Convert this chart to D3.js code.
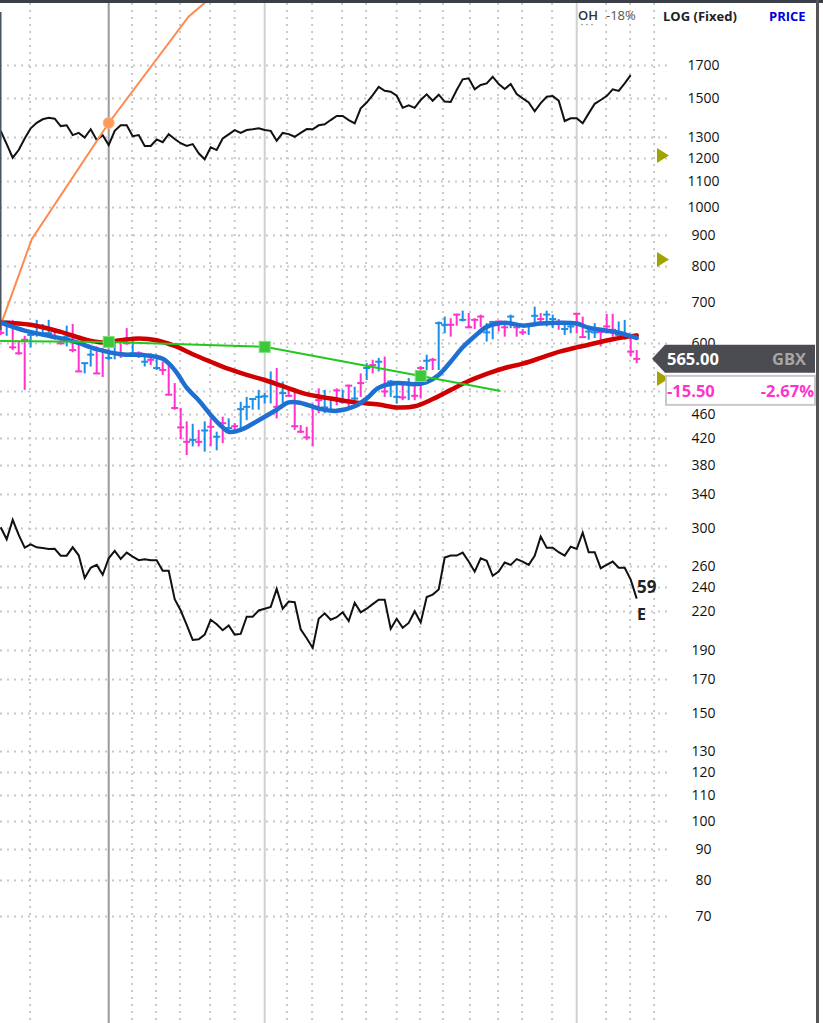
<!DOCTYPE html>
<html>
<head>
<meta charset="utf-8">
<script src="https://cdn.jsdelivr.net/npm/d3@7"></script>
<style>
	body { margin: 0; background: #fff; }
	text { font-family: "Open Sans", sans-serif; }
</style>
</head>
<body>
<svg id="chart" width="823" height="1023"></svg>
<script>
(function() {

	// daily bars: high / low / close, u = up (blue), d = down (pink)
	var highs = [647, 652, 654, 603, 616, 622, 654, 644, 654, 630, 614, 640, 644, 599, 556, 584, 592, 588, 581, 599,
		599, 634, 611, 581, 577, 577, 574, 559, 556, 516, 470, 447, 443, 433, 447, 452, 430, 455, 452, 444,
		481, 490, 487, 503, 497, 539, 546, 519, 506, 500, 441, 438, 478, 506, 503, 490, 506, 503, 513, 509,
		535, 556, 563, 567, 570, 522, 516, 513, 526, 516, 550, 574, 567, 650, 662, 658, 669, 677, 671, 658,
		667, 646, 650, 652, 650, 667, 646, 632, 646, 687, 671, 677, 667, 656, 646, 646, 671, 662, 634, 646,
		630, 669, 669, 650, 654, 611, 584];
	var lows = [618, 616, 584, 574, 503, 590, 614, 614, 618, 607, 596, 592, 579, 539, 535, 549, 534, 528, 563, 564,
		567, 596, 574, 567, 549, 552, 542, 532, 494, 467, 418, 394, 407, 407, 399, 407, 401, 412, 428, 430,
		436, 449, 467, 467, 478, 478, 452, 478, 490, 433, 428, 417, 407, 461, 461, 464, 475, 478, 472, 478,
		490, 522, 535, 539, 490, 490, 478, 484, 484, 484, 487, 542, 542, 542, 622, 614, 640, 650, 634, 632,
		636, 603, 608, 626, 614, 634, 614, 618, 618, 642, 646, 638, 634, 630, 618, 622, 622, 611, 607, 611,
		592, 622, 614, 611, 607, 570, 556];
	var closes = [623, 650, 590, 577, 607, 618, 622, 622, 622, 611, 599, 614, 584, 539, 556, 574, 535, 584, 567, 577,
		577, 599, 577, 577, 559, 563, 546, 542, 494, 470, 437, 414, 417, 414, 432, 438, 422, 444, 436, 439,
		468, 472, 486, 490, 491, 519, 472, 497, 492, 439, 430, 421, 472, 484, 471, 486, 502, 481, 511, 487,
		516, 546, 552, 559, 500, 519, 490, 489, 516, 492, 546, 561, 563, 646, 642, 642, 667, 654, 636, 654,
		662, 624, 649, 650, 636, 662, 636, 624, 640, 664, 656, 667, 656, 646, 632, 638, 669, 613, 626, 624,
		625, 638, 630, 618, 614, 580.5, 565];
	var barDir = "duddduuuuddudduudduuddudududddddududududuuuuuududddddduudu" +
		"dudububuududduduudduddduuddudduuduuduudduuddduuddduudddd";

	// relative strength line (top) and second comparison line (bottom)
	var topLine = [1328, 1264, 1201, 1236, 1291, 1341, 1369, 1387, 1395, 1390, 1352, 1356, 1307, 1318, 1295, 1336, 1283, 1307, 1259, 1328,
		1356, 1356, 1302, 1307, 1255, 1255, 1286, 1273, 1312, 1288, 1268, 1255, 1264, 1221, 1194, 1249, 1236, 1291, 1311, 1332,
		1318, 1332, 1336, 1341, 1332, 1328, 1280, 1318, 1312, 1299, 1318, 1337, 1336, 1356, 1361, 1383, 1404, 1404, 1383, 1366,
		1445, 1477, 1518, 1566, 1543, 1538, 1515, 1448, 1462, 1448, 1491, 1523, 1487, 1521, 1482, 1480, 1548, 1611, 1617, 1552,
		1577, 1587, 1627, 1583, 1554, 1583, 1525, 1500, 1477, 1429, 1474, 1509, 1513, 1487, 1378, 1392, 1392, 1366, 1418, 1470,
		1491, 1513, 1552, 1543, 1587, 1637];
	var bottomLine = [300.5, 287.3, 309, 292, 278.4, 282, 278.8, 278, 277, 277.3, 270.2, 270.2, 278.8, 270.6, 248.5, 258.2, 261, 251.5, 267.6, 275,
		267, 273.3, 269.3, 265.7, 266.7, 265.7, 265.7, 255.4, 255.4, 229.6, 220, 208.5, 197, 197.5, 201, 212.5, 209, 204.3, 208, 201,
		201.5, 215, 215, 220, 221.5, 223, 238.6, 221.5, 227.5, 227, 205, 198.3, 191.2, 213.3, 217.7, 212.5, 214.5, 218.5, 211.5, 226.5,
		218.5, 221.5, 225.3, 229, 229, 205.5, 213.3, 206.2, 210, 219.4, 210.4, 231.4, 233.5, 238, 268.3, 270.3, 270.3, 273.3, 264.3, 254.5,
		267.6, 265, 250.6, 254.5, 263.3, 261, 266.7, 264.3, 261, 270, 290.2, 278.4, 278.4, 273.7, 270.2, 279.5, 277, 294.6, 273.7, 273.7,
		257.8, 261, 264.3, 258.3, 258.3, 247, 230];

	// moving averages, read at [bar index, value]
	var blueMA = [[0, 647], [4, 628], [8, 616], [12, 604], [16, 586], [20, 575], [24, 573], [27, 565], [29, 542], [31, 507],
		[33, 484], [35, 458], [37, 437], [38, 430], [40, 433], [43, 449], [46, 467], [48, 480], [50, 479], [53, 469],
		[56, 465], [59, 473], [61, 487], [63, 507], [66, 516], [69, 514], [71, 518], [73, 532], [75, 559], [77, 590],
		[79, 615], [81, 637], [84, 647], [87, 640], [90, 645], [93, 647], [96, 645], [98, 635], [101, 628], [103, 623], [106, 611]];
	var redMA = [[0, 647], [5, 642], [10, 625], [14, 608], [17, 601], [20, 606], [23, 610], [26, 606], [29, 593], [32, 575],
		[35, 559], [38, 544], [41, 532], [44, 522], [47, 510], [51, 495], [55, 487], [59, 480], [63, 476], [66, 471],
		[69, 473], [72, 486], [75, 503], [78, 520], [81, 534], [84, 546], [87, 555], [90, 567], [93, 580], [96, 590],
		[99, 599], [102, 608], [104, 613], [106, 617]];

	// drawn trend lines [bar index, value]
	var greenTrend = [[-0.1, 604], [18, 602], [44, 591], [70, 530], [83.3, 501]];
	var greenAnchors = [18, 44, 70];
	var orangeLine = [[0.2, 649], [5.2, 886], [18, 1368], [31.3, 2037], [35, 2188]];
	var orangeAnchor = 18;

	// axis (500 sits under the change box, so only its grid line shows)
	var tickValues = [1700, 1500, 1300, 1200, 1100, 1000, 900, 800, 700, 600, 500, 460, 420, 380, 340, 300,
		260, 240, 220, 190, 170, 150, 130, 120, 110, 100, 90, 80, 70];
	var hiddenLabels = [500];
	var weekLines = [4.9, 21.9, 25.9, 29.9, 34.9, 39, 47.7, 51.9, 56.9, 60.9, 66, 69.9, 73.7, 78.2, 82.9, 86.9, 91.9, 100.9, 104.9, 108.9];
	var monthLines = [18, 44, 96];
	var alertLevels = [1211, 820, 525];

	var lastPrice = "565.00", currency = "GBX", change = "-15.50", changePct = "-2.67%";
	var rsValue = "59", rsTag = "E";


	var svg = d3.select("#chart");

	var x = d3.scaleLinear()
		.domain([0, 106])
		.range([0.7, 636.7]);

	var y = d3.scaleLog()
		.domain([1700, 70])
		.range([65, 916]);

	var plotRight = 653;

	svg.append("clipPath")
		.attr("id", "plot")
		.append("rect")
		.attr("x", 0).attr("y", 3)
		.attr("width", plotRight).attr("height", 1020);

	// horizontal dotted grid
	svg.append("g")
		.selectAll("line")
		.data(tickValues)
		.enter().append("line")
		.attr("x1", 0).attr("x2", 667)
		.attr("y1", function(d) { return Math.round(y(d)) + 0.5; })
		.attr("y2", function(d) { return Math.round(y(d)) + 0.5; })
		.attr("stroke", "#c8c8c8")
		.attr("stroke-width", 2)
		.attr("stroke-dasharray", "2,5");

	// vertical dotted grid (weeks) and the right edge of the plot
	svg.append("g")
		.selectAll("line")
		.data(weekLines)
		.enter().append("line")
		.attr("x1", function(d) { return x(d); })
		.attr("x2", function(d) { return x(d); })
		.attr("y1", 3).attr("y2", 1023)
		.attr("stroke", "#c8c8c8")
		.attr("stroke-width", 2)
		.attr("stroke-dasharray", "2,5");

	// month lines
	svg.append("g")
		.selectAll("line")
		.data(monthLines)
		.enter().append("line")
		.attr("x1", function(d) { return x(d); })
		.attr("x2", function(d) { return x(d); })
		.attr("y1", 3).attr("y2", 1023)
		.attr("stroke", function(d, i) { return i === 0 ? "#999" : "#d0d0d0"; })
		.attr("stroke-width", 2);

	var plot = svg.append("g").attr("clip-path", "url(#plot)");

	var line = d3.line()
		.x(function(d, i) { return x(i); })
		.y(function(d) { return y(d); });

	plot.append("path")
		.datum(topLine)
		.attr("d", line)
		.attr("fill", "none")
		.attr("stroke", "#111")
		.attr("stroke-width", 2);

	plot.append("path")
		.datum(bottomLine)
		.attr("d", line)
		.attr("fill", "none")
		.attr("stroke", "#111")
		.attr("stroke-width", 2);

	// orange line
	var pairLine = d3.line()
		.x(function(d) { return x(d[0]); })
		.y(function(d) { return y(d[1]); });

	plot.append("path")
		.datum(orangeLine)
		.attr("d", pairLine)
		.attr("fill", "none")
		.attr("stroke", "#ff8a4c")
		.attr("stroke-width", 2);

	// price bars
	var bars = plot.append("g");
	closes.forEach(function(c, i) {
		var col = barDir[i] === "u" ? "#1a8fe8" : "#ff33cc";
		bars.append("line")
			.attr("x1", x(i)).attr("x2", x(i))
			.attr("y1", y(highs[i])).attr("y2", y(lows[i]))
			.attr("stroke", col).attr("stroke-width", 2);
		bars.append("line")
			.attr("x1", x(i) - 3.5).attr("x2", x(i) + 3.5)
			.attr("y1", y(c)).attr("y2", y(c))
			.attr("stroke", col).attr("stroke-width", 2);
	});

	// moving averages
	var maLine = d3.line()
		.x(function(d) { return x(d[0]); })
		.y(function(d) { return y(d[1]); })
		.curve(d3.curveCatmullRom);

	plot.append("path")
		.datum(redMA)
		.attr("d", maLine)
		.attr("fill", "none")
		.attr("stroke", "#d00000")
		.attr("stroke-width", 4.5)
		.attr("stroke-linecap", "round");

	plot.append("path")
		.datum(blueMA)
		.attr("d", maLine)
		.attr("fill", "none")
		.attr("stroke", "#1f6fd2")
		.attr("stroke-width", 4.5)
		.attr("stroke-linecap", "round");

	// green trend line
	plot.append("path")
		.datum(greenTrend)
		.attr("d", pairLine)
		.attr("fill", "none")
		.attr("stroke", "#22c81e")
		.attr("stroke-width", 2);

	plot.selectAll(".anchor")
		.data(greenAnchors)
		.enter().append("rect")
		.attr("x", function(d) { return x(d) - 5.5; })
		.attr("y", function(d) {
			var p = greenTrend.filter(function(g) { return g[0] === d; })[0];
			return y(p[1]) - 5.5;
		})
		.attr("width", 11).attr("height", 11)
		.attr("fill", "#3cc83a")
		.attr("stroke", "#7ee07a")
		.attr("stroke-width", 1);

	var op = orangeLine.filter(function(o) { return o[0] === orangeAnchor; })[0];
	plot.append("circle")
		.attr("cx", x(op[0])).attr("cy", y(op[1]))
		.attr("r", 5.5)
		.attr("fill", "#ff9a5a")
		.attr("stroke", "#ffb27f")
		.attr("stroke-width", 1);

	// right axis labels
	svg.append("g")
		.selectAll("text")
		.data(tickValues.filter(function(d) { return hiddenLabels.indexOf(d) < 0; }))
		.enter().append("text")
		.attr("x", 703.5)
		.attr("y", function(d) { return y(d); })
		.attr("dy", "0.36em")
		.attr("text-anchor", "middle")
		.attr("font-size", "14px")
		.attr("fill", "#111")
		.text(function(d) { return d; });

	// alert markers
	svg.append("g")
		.selectAll("path")
		.data(alertLevels)
		.enter().append("path")
		.attr("d", function(d) {
			var yy = y(d);
			return "M657," + (yy - 7.5) + "L669," + yy + "L657," + (yy + 7.5) + "Z";
		})
		.attr("fill", "#a3a300");

	// last price box
	var yl = y(565);
	svg.append("path")
		.attr("d", "M652," + yl + "L665," + (yl - 14) + "L815," + (yl - 14) + "L815," + (yl + 14) + "L665," + (yl + 14) + "Z")
		.attr("fill", "#4b4b52");
	svg.append("text")
		.attr("x", 667).attr("y", yl + 6)
		.attr("font-size", "16.5px").attr("font-weight", "bold")
		.attr("fill", "#fff")
		.text(lastPrice);
	svg.append("text")
		.attr("x", 806).attr("y", yl + 6)
		.attr("text-anchor", "end")
		.attr("font-size", "16.5px").attr("font-weight", "bold")
		.attr("fill", "#a6a6a6")
		.text(currency);

	svg.append("rect")
		.attr("x", 666).attr("y", yl + 17)
		.attr("width", 149).attr("height", 29)
		.attr("fill", "#fff")
		.attr("stroke", "#c8c8c8")
		.attr("stroke-width", 2);
	svg.append("text")
		.attr("x", 667).attr("y", yl + 38)
		.attr("font-size", "16.5px").attr("font-weight", "bold")
		.attr("fill", "#ff33cc")
		.text(change);
	svg.append("text")
		.attr("x", 814).attr("y", yl + 38)
		.attr("text-anchor", "end")
		.attr("font-size", "16.5px").attr("font-weight", "bold")
		.attr("fill", "#ff33cc")
		.text(changePct);

	// RS rating tag at the end of the bottom line
	svg.append("text")
		.attr("x", 637).attr("y", 593)
		.attr("font-size", "17px").attr("font-weight", "bold")
		.attr("fill", "#222")
		.text(rsValue);
	svg.append("text")
		.attr("x", 637).attr("y", 620)
		.attr("font-size", "16px").attr("font-weight", "bold")
		.attr("fill", "#222")
		.text(rsTag);

	// header
	svg.append("text").attr("x", 578).attr("y", 20)
		.attr("font-size", "13px").attr("font-weight", 600).attr("fill", "#333").text("OH");
	svg.append("g").selectAll("circle")
		.data([582, 587, 592])
		.enter().append("circle")
		.attr("cx", function(d) { return d; }).attr("cy", 24.5).attr("r", 0.8)
		.attr("fill", "#888");
	svg.append("text").attr("x", 606).attr("y", 20)
		.attr("font-size", "13px").attr("fill", "#555").text("-18%");
	svg.append("text").attr("x", 663).attr("y", 21)
		.attr("font-size", "13px").attr("font-weight", "bold").attr("fill", "#222").text("LOG (Fixed)");
	svg.append("text").attr("x", 769).attr("y", 21)
		.attr("font-size", "13px").attr("font-weight", "bold").attr("fill", "#0000e0").text("PRICE");

	// frame
	svg.append("rect").attr("x", 0).attr("y", 0).attr("width", 823).attr("height", 3).attr("fill", "#3a3f47");
	svg.append("rect").attr("x", 816).attr("y", 0).attr("width", 3).attr("height", 1023).attr("fill", "#555");
	svg.append("rect").attr("x", 0).attr("y", 12).attr("width", 1.5).attr("height", 318).attr("fill", "#4a5360");

})();
</script>
</body>
</html>
